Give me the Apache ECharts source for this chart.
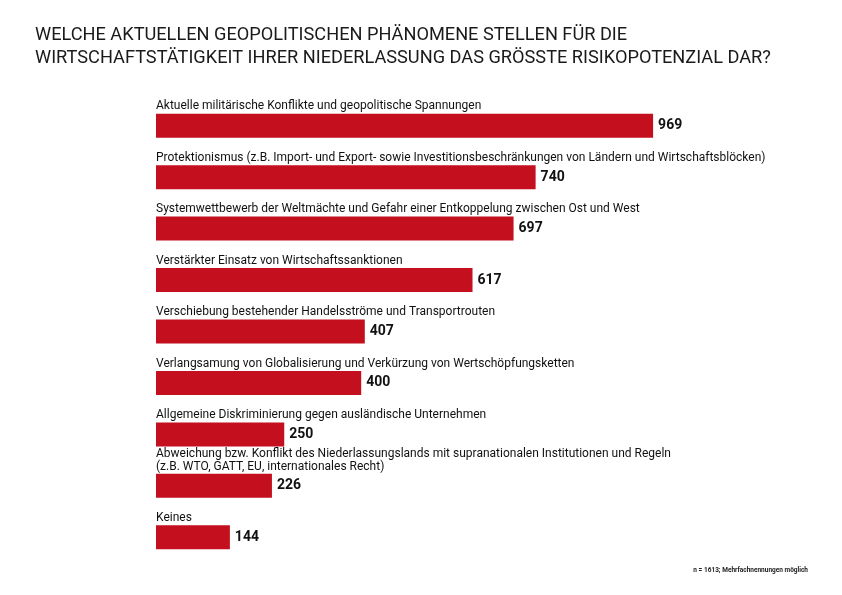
<!DOCTYPE html>
<html><head><meta charset="utf-8">
<script src="https://cdn.jsdelivr.net/npm/echarts@6/dist/echarts.min.js"></script>
<style>html,body{margin:0;padding:0;background:#fff}#c{width:842px;height:595px}</style>
</head><body><div id="c"></div>
<script>
const titleText = 'WELCHE AKTUELLEN GEOPOLITISCHEN PHÄNOMENE STELLEN FÜR DIE\nWIRTSCHAFTSTÄTIGKEIT IHRER NIEDERLASSUNG DAS GRÖSSTE RISIKOPOTENZIAL DAR?';
const categories = [
  'Aktuelle militärische Konflikte und geopolitische Spannungen',
  'Protektionismus (z.B. Import- und Export- sowie Investitionsbeschränkungen von Ländern und Wirtschaftsblöcken)',
  'Systemwettbewerb der Weltmächte und Gefahr einer Entkoppelung zwischen Ost und West',
  'Verstärkter Einsatz von Wirtschaftssanktionen',
  'Verschiebung bestehender Handelsströme und Transportrouten',
  'Verlangsamung von Globalisierung und Verkürzung von Wertschöpfungsketten',
  'Allgemeine Diskriminierung gegen ausländische Unternehmen',
  'Abweichung bzw. Konflikt des Niederlassungslands mit supranationalen Institutionen und Regeln\n(z.B. WTO, GATT, EU, internationales Recht)',
  'Keines'
];
const values = [969, 740, 697, 617, 407, 400, 250, 226, 144];
const footnote = 'n = 1613; Mehrfachnennungen möglich';

const chart = echarts.init(document.getElementById('c'));
chart.setOption({
  animation: false,
  backgroundColor: '#fff',
  title: [{
    text: titleText, left: 30, top: 19,
    textStyle: {fontFamily: 'Roboto', fontWeight: 'normal', fontSize: 18.2, lineHeight: 23, color: '#1a1a1a'}
  }, {
    text: footnote, right: 29, top: 562,
    textStyle: {fontFamily: 'Roboto', fontWeight: 'bold', fontSize: 6.5, color: '#222'}
  }],
  grid: {left: 156, right: 173, top: 100, bottom: 32},
  xAxis: {type: 'value', min: 0, max: 1000, show: false},
  yAxis: {type: 'category', data: categories, inverse: true, show: false},
  series: [{
    type: 'bar', data: values, barWidth: 24,
    itemStyle: {color: '#C40F1E'},
    label: {show: true, position: 'right', distance: 5, fontFamily: 'Roboto', fontWeight: 'bold', fontSize: 14, color: '#111'}
  }, {
    type: 'bar', data: values, barWidth: 24, barGap: '-100%',
    itemStyle: {color: 'rgba(0,0,0,0)'}, silent: true,
    label: {show: true, position: [0, -1], align: 'left', verticalAlign: 'bottom', formatter: '{b}',
      fontFamily: 'Roboto', fontSize: 12, lineHeight: 12.5, color: '#111'}
  }]
});
</script></body></html>
